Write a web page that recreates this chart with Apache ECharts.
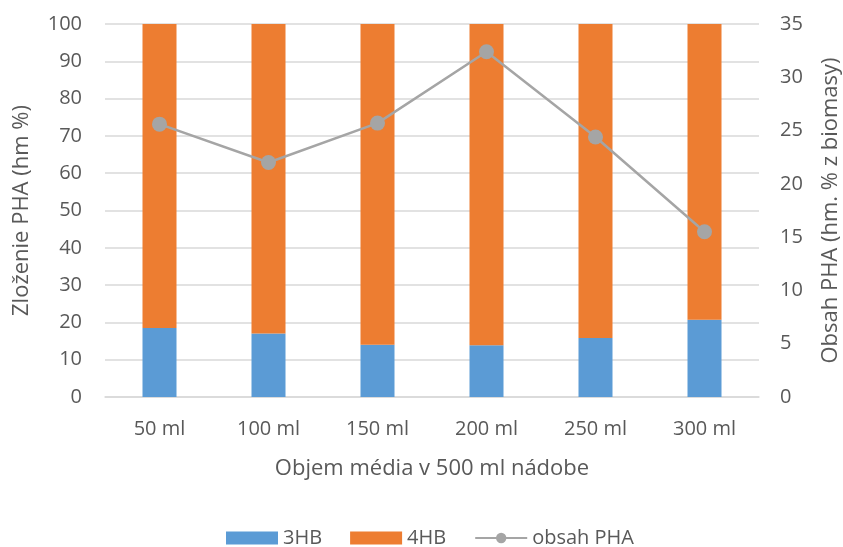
<!DOCTYPE html>
<html><head><meta charset="utf-8">
<script src="https://cdn.jsdelivr.net/npm/echarts@6/dist/echarts.min.js"></script>
<style>html,body{margin:0;padding:0;background:#fff}#c{width:843px;height:547px}</style>
</head><body><div id="c"></div>
<script>
const categories = ['50 ml','100 ml','150 ml','200 ml','250 ml','300 ml'];
const hb3 = [18.5, 17.0, 14.0, 13.9, 15.8, 20.7];
const hb4 = [81.5, 83.0, 86.0, 86.1, 84.2, 79.3];
const obsahPHA = [25.6, 22.0, 25.7, 32.4, 24.4, 15.5];

const font = "'Open Sans', 'Liberation Sans', sans-serif";
const txt = '#595959';
const chart = echarts.init(document.getElementById('c'));
chart.setOption({
  animation: false,
  textStyle: { fontFamily: font },
  grid: { left: 105, right: 84, top: 24, bottom: 150, containLabel: false, outerBoundsMode: 'none' },
  legend: {
    top: 528, left: 226, padding: 0, itemGap: 28, itemWidth: 52, itemHeight: 13,
    textStyle: { fontFamily: font, fontSize: 20, color: txt },
    data: [
      { name: '3HB', icon: 'rect' },
      { name: '4HB', icon: 'rect' },
      { name: 'obsah PHA', itemStyle: { color: '#a5a5a5' } }
    ]
  },
  xAxis: {
    type: 'category', data: categories,
    axisLine: { lineStyle: { color: '#d9d9d9', width: 1.5 } },
    axisTick: { show: false },
    axisLabel: { color: txt, fontSize: 20, margin: 22, fontFamily: font },
    name: 'Objem média v 500 ml nádobe', nameLocation: 'middle', nameGap: 61,
    nameTextStyle: { color: txt, fontSize: 22, fontFamily: font }
  },
  yAxis: [
    {
      type: 'value', min: 0, max: 100, interval: 10,
      axisLabel: { color: txt, fontSize: 20, margin: 23, fontFamily: font },
      splitLine: { lineStyle: { color: '#d9d9d9', width: 1.5 } },
      axisLine: { show: false }, axisTick: { show: false },
      name: 'Zloženie PHA (hm %)', nameLocation: 'middle', nameGap: 72, nameRotate: 90,
      nameTextStyle: { color: txt, fontSize: 22, fontFamily: font }
    },
    {
      type: 'value', min: 0, max: 35, interval: 5,
      axisLabel: { color: txt, fontSize: 20, margin: 21, fontFamily: font },
      splitLine: { show: false },
      axisLine: { show: false }, axisTick: { show: false },
      name: 'Obsah PHA (hm. % z biomasy)', nameLocation: 'middle', nameGap: 83, nameRotate: 90,
      nameTextStyle: { color: txt, fontSize: 22, fontFamily: font, verticalAlign: 'bottom' }
    }
  ],
  series: [
    { name: '3HB', type: 'bar', stack: 'a', data: hb3, barWidth: 34,
      itemStyle: { color: '#5b9bd5' } },
    { name: '4HB', type: 'bar', stack: 'a', data: hb4, barWidth: 34,
      itemStyle: { color: '#ed7d31' } },
    { name: 'obsah PHA', type: 'line', yAxisIndex: 1, data: obsahPHA,
      symbol: 'circle', symbolSize: 15,
      lineStyle: { color: '#a5a5a5', width: 2.5 },
      itemStyle: { color: '#a5a5a5' } }
  ]
});
</script></body></html>
